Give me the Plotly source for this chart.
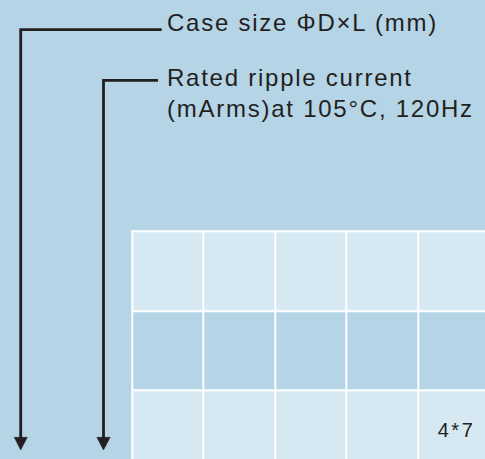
import plotly.graph_objects as go

# ---- data ----
columns = ["c1", "c2", "c3", "c4", "c5"]
rows = ["r1", "r2", "r3"]
row_shade = [0, 1, 0]            # 0 = light cell, 1 = darker band
cell_text = [
    ["", "", "", "", ""],
    ["", "", "", "", ""],
    ["", "", "", "", "4*7"],
]
label_case = "Case size ΦD×L (mm)"
label_ripple = ["Rated ripple current", "(mArms)at 105°C, 120Hz"]

# ---- styling / geometry ----
W, H = 485, 459
BG = "#b5d4e6"
LIGHT = "#d6e8f2"
INK = "#231f20"
FONT = "Liberation Sans, Arial, sans-serif"

col_left, col_pitch = 132.3, 71.4
row_top, row_pitch = 231.3, 79.5

z = [[row_shade[r]] * len(columns) for r in range(len(rows))]

fig = go.Figure()
fig.add_trace(go.Heatmap(
    z=z,
    x0=col_left + col_pitch / 2, dx=col_pitch,
    y0=row_top + row_pitch / 2, dy=row_pitch,
    colorscale=[[0, LIGHT], [1, BG]],
    zmin=0, zmax=1, showscale=False,
    xgap=2, ygap=2,
    text=cell_text, texttemplate="%{text}",
    textfont=dict(family=FONT, size=20, color=INK),
    hoverinfo="skip",
))

shapes = [
    # white grid backing
    dict(type="rect", x0=col_left - 1, x1=W + 10, y0=row_top - 1, y1=H + 10,
         fillcolor="white", line=dict(width=0), layer="below"),
    # leader lines
    dict(type="path", path="M 161.7,29.7 L 20.7,29.7 L 20.7,440",
         line=dict(color=INK, width=2.8)),
    dict(type="path", path="M 14.2,437.3 L 27.3,437.3 L 20.7,450 Z",
         fillcolor=INK, line=dict(color=INK, width=0.5)),
    dict(type="path", path="M 158,80.3 L 103.5,80.3 L 103.5,440",
         line=dict(color=INK, width=2.8)),
    dict(type="path", path="M 96.8,437.3 L 110.2,437.3 L 103.5,450 Z",
         fillcolor=INK, line=dict(color=INK, width=0.5)),
]

annotations = [
    dict(x=165, y=22, text=label_case, xanchor="left", yanchor="middle", align="left",
         showarrow=False, font=dict(family=FONT, size=24, color=INK)),
    dict(x=165, y=77.5, text=label_ripple[0], xanchor="left", yanchor="middle", align="left",
         showarrow=False, font=dict(family=FONT, size=24, color=INK)),
    dict(x=165, y=108, text=label_ripple[1], xanchor="left", yanchor="middle", align="left",
         showarrow=False, font=dict(family=FONT, size=24, color=INK)),
]

fig.update_layout(
    width=W, height=H,
    margin=dict(l=0, r=0, t=0, b=0),
    paper_bgcolor=BG, plot_bgcolor=BG,
    xaxis=dict(range=[0, W], visible=False, fixedrange=True),
    yaxis=dict(range=[H, 0], visible=False, fixedrange=True),
    shapes=shapes, annotations=annotations,
    showlegend=False,
)

post = """
document.body.style.margin = '0';
document.body.style.background = '%s';
document.querySelectorAll('.annotation-text').forEach(function(t){ t.style.letterSpacing = '1.75px'; });
document.querySelectorAll('text:not(.annotation-text)').forEach(function(t){
  t.style.letterSpacing = '2.5px';
  t.setAttribute('dx', '2.5');
});
""" % BG

fig.write_html("out.html", config={"displayModeBar": False}, post_script=post)
